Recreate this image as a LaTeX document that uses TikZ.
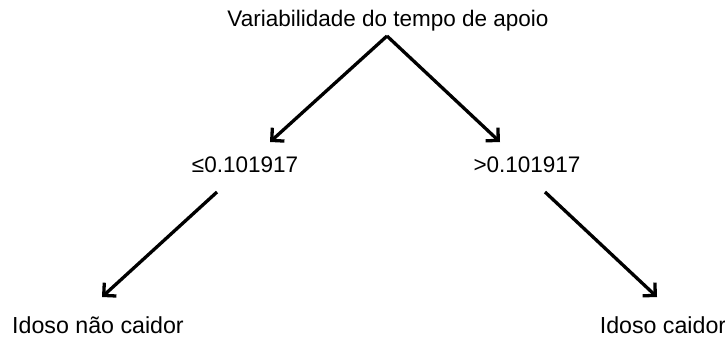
\documentclass[tikz,border=0pt]{standalone}
\usepackage{fontspec}
\setmainfont{Liberation Sans}
\usetikzlibrary{arrows.meta}
\begin{document}
\begin{tikzpicture}[x=1pt,y=-1pt,
  lbl/.style={inner sep=0pt,anchor=base,font=\fontsize{22.5}{26}\selectfont},
  conn/.style={line width=3.3pt,-{Straight Barb[length=9pt,width=18pt,line width=3.3pt]},black}]
\useasboundingbox (0,0) rectangle (725,340);
\node[lbl] (root) at (388,26) {Variabilidade do tempo de apoio};
\node[lbl] (le) at (245,172) {≤0.101917};
\node[lbl] (gt) at (527,172) {>0.101917};
\node[lbl,font=\fontsize{23.2}{26}\selectfont] (nf) at (98,333) {Idoso não caidor};
\node[lbl,font=\fontsize{23.2}{26}\selectfont] (f) at (663,333) {Idoso caidor};
\coordinate (r0) at (387,36);
\coordinate (leT) at (270,142);
\coordinate (gtT) at (500,142);
\coordinate (leB) at (217,192);
\coordinate (gtB) at (545,192);
\coordinate (nfT) at (102,297);
\coordinate (fT) at (657,297);
\draw[conn] (r0) -- (leT);
\draw[conn] (r0) -- (gtT);
\draw[conn] (leB) -- (nfT);
\draw[conn] (gtB) -- (fT);
\end{tikzpicture}
\end{document}
